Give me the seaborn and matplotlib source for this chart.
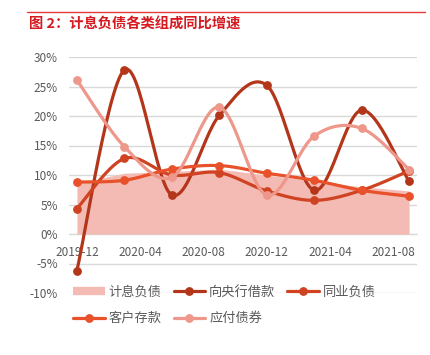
import numpy as np
import pandas as pd
import seaborn as sns
import matplotlib
matplotlib.use("Agg")
import matplotlib.pyplot as plt
from matplotlib.lines import Line2D

# quarterly data points, 2019-12 .. 2021-09 (yoy growth, %)
quarters = ["2019-12", "2020-03", "2020-06", "2020-09", "2020-12", "2021-03", "2021-06", "2021-09"]
total_liab = [8.6, 10.3, 10.6, 11.0, 10.0, 9.0, 8.0, 7.3]        # 计息负债
pboc_borrow = [-6.2, 27.8, 6.6, 20.1, 25.2, 7.4, 21.0, 8.9]     # 向央行借款
interbank = [4.3, 12.8, 10.0, 10.4, 7.3, 5.7, 7.4, 10.7]        # 同业负债
deposits = [8.8, 9.1, 11.0, 11.6, 10.3, 9.1, 7.4, 6.4]          # 客户存款
bonds = [26.1, 14.8, 9.6, 21.5, 6.6, 16.6, 17.9, 10.9]          # 应付债券

tick_labels = ["2019-12", "2020-04", "2020-08", "2020-12", "2021-04", "2021-08"]

colors = {
    "计息负债": "#F4BBB5",
    "向央行借款": "#B3361B",
    "同业负债": "#CF4322",
    "客户存款": "#E8512A",
    "应付债券": "#EE978B",
}

sns.set_style("white")
plt.rcParams["font.family"] = ["Noto Sans CJK SC", "DejaVu Sans"]


def month_pos(label):
    y, m = label.split("-")
    return (int(y) - 2019) * 12 + int(m) - 12


def smooth(xs, ys, n=30):
    # excel-like smoothed line (catmull-rom bezier)
    px = np.asarray(xs, float)
    py = np.asarray(ys, float)
    out_x, out_y = [], []
    t = np.linspace(0, 1, n)
    for i in range(len(px) - 1):
        a = max(i - 1, 0)
        b = min(i + 2, len(px) - 1)
        c1x = px[i] + (px[i + 1] - px[a]) / 6
        c1y = py[i] + (py[i + 1] - py[a]) / 6
        c2x = px[i + 1] - (px[b] - px[i]) / 6
        c2y = py[i + 1] - (py[b] - py[i]) / 6
        bx = (1 - t) ** 3 * px[i] + 3 * (1 - t) ** 2 * t * c1x + 3 * (1 - t) * t ** 2 * c2x + t ** 3 * px[i + 1]
        by = (1 - t) ** 3 * py[i] + 3 * (1 - t) ** 2 * t * c1y + 3 * (1 - t) * t ** 2 * c2y + t ** 3 * py[i + 1]
        out_x.extend(bx)
        out_y.extend(by)
    return np.array(out_x), np.array(out_y)


x = np.array([month_pos(q) + 0.5 for q in quarters])

fig = plt.figure(figsize=(4.31, 3.55), dpi=100)
ax = fig.add_axes([69 / 431, 62 / 355, 348 / 431, 236 / 355])

ax.fill_between(x, 0, total_liab, color=colors["计息负债"], lw=0, zorder=1)

series = [("向央行借款", pboc_borrow), ("同业负债", interbank), ("客户存款", deposits), ("应付债券", bonds)]
for k, (name, vals) in enumerate(series):
    sx, sy = smooth(x, vals)
    df = pd.DataFrame({"x": sx, "y": sy})
    sns.lineplot(data=df, x="x", y="y", ax=ax, color=colors[name], lw=2.3,
                 sort=False, estimator=None, zorder=3 + k)
    ax.plot(x, vals, "o", ms=5.3, color=colors[name], zorder=3 + k)

ax.set_xlim(0, 22)
ax.set_ylim(-10, 30)
ax.set_xlabel("")
ax.set_ylabel("")

ax.set_yticks(range(-10, 31, 5))
ax.set_yticklabels([f"{v}%" for v in range(-10, 31, 5)])
ax.yaxis.grid(True, color="#D9D9D9", lw=1)
ax.set_axisbelow(True)

for s in ["left", "right", "top"]:
    ax.spines[s].set_visible(False)
ax.spines["bottom"].set_position(("data", 0))
ax.spines["bottom"].set_color("#D9D9D9")
ax.spines["bottom"].set_zorder(0.5)

ax.set_xticks(range(0, 21, 4))
ax.set_xticklabels([])
ax.set_xticks([v + 0.5 for v in range(0, 21, 4)], minor=True)
ax.set_xticklabels(tick_labels, minor=True)
ax.tick_params(axis="x", which="major", length=5, color="#D9D9D9", direction="out")
ax.tick_params(axis="x", which="minor", length=0, pad=9, labelsize=8.5, labelcolor="#595959")
ax.tick_params(axis="y", length=0, pad=8, labelsize=8.5, labelcolor="#595959")

# title with red rule
fig.add_artist(Line2D([27 / 431, 425 / 431], [1 - 12 / 355, 1 - 12 / 355], color="#E53A3A", lw=1))
fig.text(29 / 431, 1 - 25 / 355, "图 2：计息负债各类组成同比增速", color="#D71920",
         fontsize=10.3, fontweight="bold", va="center", ha="left")

handles = {
    "计息负债": Line2D([], [], color=colors["计息负债"], lw=6, solid_capstyle="butt"),
}
for name, _ in series:
    handles[name] = Line2D([], [], color=colors[name], lw=2.3, marker="o", ms=5.3)
order = ["计息负债", "客户存款", "向央行借款", "应付债券", "同业负债"]
fig.legend([handles[n] for n in order], order, loc="upper left",
           bbox_to_anchor=(73 / 431, 1 - 286 / 355), ncol=3, frameon=False,
           fontsize=9.5, handlelength=2.4, handletextpad=0.3, columnspacing=0.9,
           labelspacing=1.0, borderpad=0, borderaxespad=0, labelcolor="#595959")

fig.savefig("out.png", dpi=100)
